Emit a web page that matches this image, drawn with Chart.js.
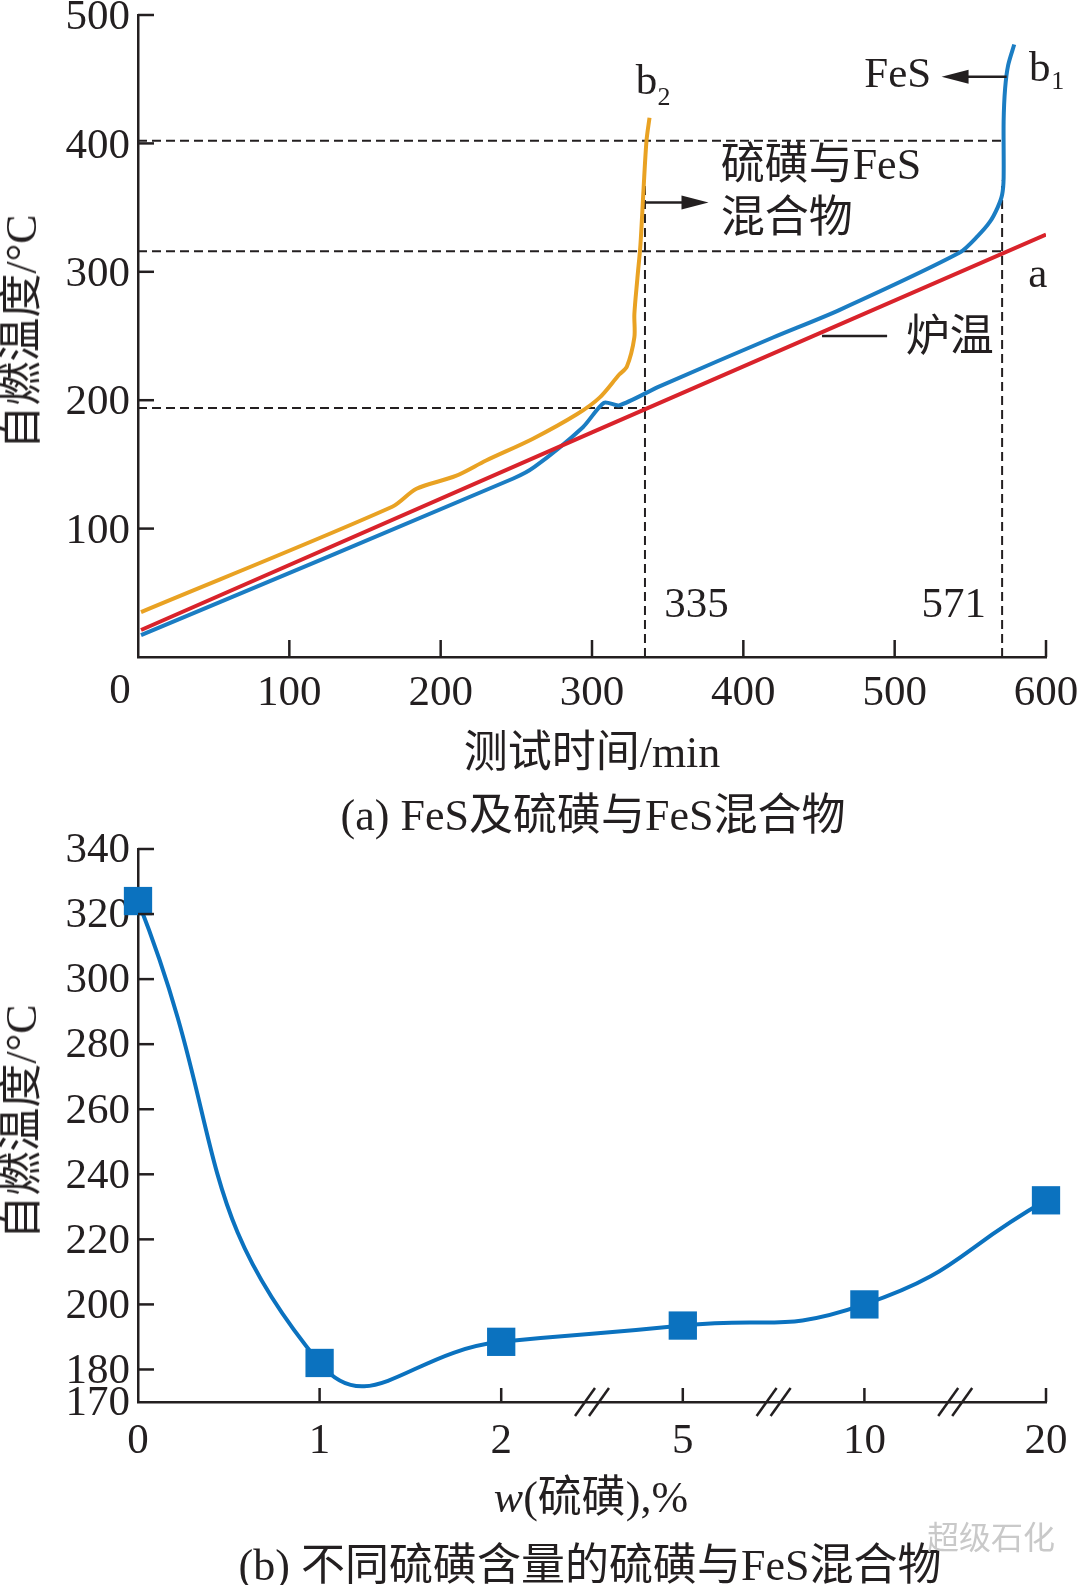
<!DOCTYPE html>
<html lang="zh">
<head>
<meta charset="UTF-8">
<title>自燃温度</title>
<script src="https://cdn.jsdelivr.net/npm/chart.js"></script>
<style>
  body { margin: 0; background: #fff; }
  #page { position: relative; width: 1080px; height: 1585px; overflow: hidden;
          font-family: "Liberation Serif", "Noto Sans CJK SC", serif; color: #231f20; }
  .box { position: absolute; left: 0; width: 1080px; }
  .txt { position: absolute; white-space: nowrap; font-size: 44px; line-height: 1;
         transform: translate(-50%, -50%); }
  .rot { transform: translate(-50%, -50%) rotate(-90deg); }
  .wm { color: #c9c9c9; font-size: 32px; }
</style>
</head>
<body>
<div id="page">
  <div class="box" style="top:0;height:800px"><canvas id="chartA"></canvas></div>
  <div class="box" style="top:800px;height:785px"><canvas id="chartB"></canvas></div>

  <div class="txt rot" style="left:22px;top:332px">自燃温度/°C</div>
  <div class="txt" style="left:592px;top:753px">测试时间/min</div>
  <div class="txt" style="left:593px;top:816px">(a) FeS及硫磺与FeS混合物</div>

  <div class="txt rot" style="left:22px;top:1122px">自燃温度/°C</div>
  <div class="txt" style="left:591px;top:1498px"><i>w</i>(硫磺),%</div>
  <div class="txt" style="left:590px;top:1566px">(b) 不同硫磺含量的硫磺与FeS混合物</div>
  <div class="txt wm" style="left:991px;top:1538px">超级石化</div>
</div>

<script>
  // ---- (a) 自燃温度随测试时间 ----
  var xTicksA = [100, 200, 300, 400, 500, 600];
  var yTicksA = [100, 200, 300, 400, 500];

  // a: 炉温
  var furnaceX = [2, 300, 600];
  var furnaceY = [21, 175, 329];
  // b1: FeS
  var fesX = [2, 248, 262, 294, 308, 318, 345, 420, 463, 543, 555, 563, 568, 571, 572, 572, 573, 575, 579];
  var fesY = [17, 139, 148, 179, 198, 196, 211, 249, 270, 315, 328, 339, 350, 360, 373, 417, 443, 461, 477];
  // b2: 硫磺与FeS混合物
  var mixX = [2, 168, 184, 210, 230, 261, 290, 305, 318, 323, 328, 328, 330, 332, 334, 336, 338];
  var mixY = [35, 117, 131, 141, 153, 170, 189, 202, 220, 226, 249, 267, 295, 321, 363, 402, 420];

  // 虚线参考线
  var refTemps = [402, 316, 194];
  var refTempEnds = [571, 571, 335];
  var refTimes = [335, 571];
  var refTimeTop = 371;

  // ---- (b) 不同硫磺含量 ----
  var sulfurCats = ['0', '1', '2', '5', '10', '20'];
  var igniteTemp = [324, 182, 188.5, 193.5, 200, 232];
  var yTicksB = [170, 180, 200, 220, 240, 260, 280, 300, 320, 340];

  var FONT = '"Liberation Serif", "Noto Sans CJK SC", serif';
  var INK = '#231f20';

  function pts(xs, ys) {
    var out = [];
    for (var i = 0; i < xs.length; i++) out.push({ x: xs[i], y: ys[i] });
    return out;
  }

  function line(ctx, x1, y1, x2, y2) {
    ctx.beginPath();
    ctx.moveTo(x1, y1);
    ctx.lineTo(x2, y2);
    ctx.stroke();
  }

  function arrow(ctx, x1, y, x2) {
    var dir = x2 > x1 ? 1 : -1;
    line(ctx, x1, y, x2 - dir * 20, y);
    ctx.beginPath();
    ctx.moveTo(x2, y);
    ctx.lineTo(x2 - dir * 27, y - 7);
    ctx.lineTo(x2 - dir * 27, y + 7);
    ctx.closePath();
    ctx.fill();
  }

  function text(ctx, s, x, y, size, align) {
    ctx.font = size + 'px ' + FONT;
    ctx.textAlign = align || 'center';
    ctx.textBaseline = 'middle';
    ctx.fillText(s, x, y);
  }

  // scales keep their own size, labels may overhang the plot
  function fixX(h) {
    return function (s) { s.height = h; s.paddingLeft = 0; s.paddingRight = 0; };
  }
  function fixY(w) {
    return function (s) { s.width = w; s.paddingTop = 0; s.paddingBottom = 0; };
  }

  var dashed = [];
  for (var i = 0; i < refTemps.length; i++) {
    dashed.push([{ x: 0, y: refTemps[i] }, { x: refTempEnds[i], y: refTemps[i] }]);
  }
  for (var j = 0; j < refTimes.length; j++) {
    dashed.push([{ x: refTimes[j], y: 0 }, { x: refTimes[j], y: refTimeTop }]);
  }

  var datasetsA = [
    { label: 'a 炉温', data: pts(furnaceX, furnaceY), borderColor: '#d9232b', tension: 0 },
    { label: 'b1 FeS', data: pts(fesX, fesY), borderColor: '#1b7dc3', tension: 0.25 },
    { label: 'b2 硫磺与FeS混合物', data: pts(mixX, mixY), borderColor: '#e9a223', tension: 0.3 }
  ].map(function (d) {
    d.borderWidth = 4; d.pointRadius = 0; d.borderJoinStyle = 'round';
    return d;
  });
  dashed.forEach(function (d) {
    datasetsA.push({ data: d, borderColor: INK, borderWidth: 2, borderDash: [9, 5], pointRadius: 0 });
  });

  var decorA = {
    id: 'decorA',
    afterDraw: function (chart) {
      var ctx = chart.ctx, sx = chart.scales.x, sy = chart.scales.y, a = chart.chartArea;
      var X = function (v) { return sx.getPixelForValue(v); };
      var Y = function (v) { return sy.getPixelForValue(v); };
      ctx.save();
      ctx.strokeStyle = INK; ctx.fillStyle = INK; ctx.lineWidth = 2.5;
      yTicksA.forEach(function (v) { line(ctx, a.left, Y(v), a.left + 16, Y(v)); });
      xTicksA.forEach(function (v) { line(ctx, X(v), a.bottom, X(v), a.bottom - 17); });
      text(ctx, '0', X(0) - 18, Y(0) + 35, 43);

      arrow(ctx, X(574), Y(452), X(531));
      arrow(ctx, X(335), Y(354), X(377));
      line(ctx, X(452), Y(250), X(495), Y(250));

      text(ctx, 'b', X(336), Y(447.5), 43);
      text(ctx, '2', X(347.5), Y(435), 26);
      text(ctx, 'FeS', X(502), Y(452.8), 43);
      text(ctx, 'b', X(595.8), Y(457.5), 43);
      text(ctx, '1', X(607.8), Y(448), 26);
      text(ctx, '硫磺与FeS', X(385), Y(381.4), 44, 'left');
      text(ctx, '混合物', X(385), Y(340.2), 44, 'left');
      text(ctx, 'a', X(594.5), Y(296.7), 43);
      text(ctx, '炉温', X(536.4), Y(247), 44);
      text(ctx, '335', X(369), Y(39.6), 43);
      text(ctx, '571', X(539), Y(39.6), 43);
      ctx.restore();
    }
  };

  new Chart(document.getElementById('chartA'), {
    type: 'line',
    data: { datasets: datasetsA },
    plugins: [decorA],
    options: {
      responsive: true, maintainAspectRatio: false, animation: false,
      layout: { padding: { top: 15, right: 34, left: 0, bottom: 0 } },
      plugins: { legend: { display: false }, tooltip: { enabled: false } },
      scales: {
        x: {
          type: 'linear', min: 0, max: 600,
          afterBuildTicks: function (s) { s.ticks = xTicksA.map(function (v) { return { value: v }; }); },
          afterFit: fixX(143),
          grid: { display: false },
          border: { color: INK, width: 2.5 },
          ticks: { font: { family: FONT, size: 43, lineHeight: 0.7 }, color: INK, padding: 14, maxRotation: 0, autoSkip: false }
        },
        y: {
          min: 0, max: 500,
          afterBuildTicks: function (s) { s.ticks = yTicksA.map(function (v) { return { value: v }; }); },
          afterFit: fixY(138),
          grid: { display: false },
          border: { color: INK, width: 2.5 },
          ticks: { font: { family: FONT, size: 43, lineHeight: 0.7 }, color: INK, padding: 0, labelOffset: 3, autoSkip: false }
        }
      }
    }
  });

  var decorB = {
    id: 'decorB',
    afterDraw: function (chart) {
      var ctx = chart.ctx, sx = chart.scales.x, sy = chart.scales.y, a = chart.chartArea;
      ctx.save();
      ctx.strokeStyle = INK; ctx.lineWidth = 2.5;
      yTicksB.slice(1).forEach(function (v) {
        var y = sy.getPixelForValue(v);
        line(ctx, a.left, y, a.left + 16, y);
      });
      for (var i = 1; i < sulfurCats.length; i++) {
        var x = sx.getPixelForValue(i);
        line(ctx, x, a.bottom, x, a.bottom - 14);
      }
      // 坐标轴断点 //
      [2.5, 3.5, 4.5].forEach(function (v) {
        var x = sx.getPixelForValue(v), y = a.bottom;
        line(ctx, x - 17, y + 14, x + 3, y - 14);
        line(ctx, x - 3, y + 14, x + 17, y - 14);
      });
      ctx.restore();
    }
  };

  new Chart(document.getElementById('chartB'), {
    type: 'line',
    data: {
      labels: sulfurCats,
      datasets: [{
        label: '自燃温度',
        data: igniteTemp,
        borderColor: '#0b72bf', backgroundColor: '#0b72bf',
        borderWidth: 4, tension: 0.5, capBezierPoints: false, clip: false,
        pointStyle: 'rect', pointRadius: 20, pointBorderWidth: 0,
        pointBackgroundColor: '#0b72bf'
      }]
    },
    plugins: [decorB],
    options: {
      responsive: true, maintainAspectRatio: false, animation: false,
      layout: { padding: { top: 49, right: 34, left: 0, bottom: 0 } },
      plugins: { legend: { display: false }, tooltip: { enabled: false } },
      scales: {
        x: {
          offset: false,
          afterFit: fixX(183),
          grid: { display: false },
          border: { color: INK, width: 2.5 },
          ticks: { font: { family: FONT, size: 43 }, color: INK, padding: 6, maxRotation: 0, autoSkip: false }
        },
        y: {
          min: 170, max: 340,
          afterBuildTicks: function (s) { s.ticks = yTicksB.map(function (v) { return { value: v }; }); },
          afterFit: fixY(138),
          grid: { display: false },
          border: { color: INK, width: 2.5 },
          ticks: { font: { family: FONT, size: 43 }, color: INK, padding: 0, labelOffset: 2, autoSkip: false }
        }
      }
    }
  });
</script>
</body>
</html>
